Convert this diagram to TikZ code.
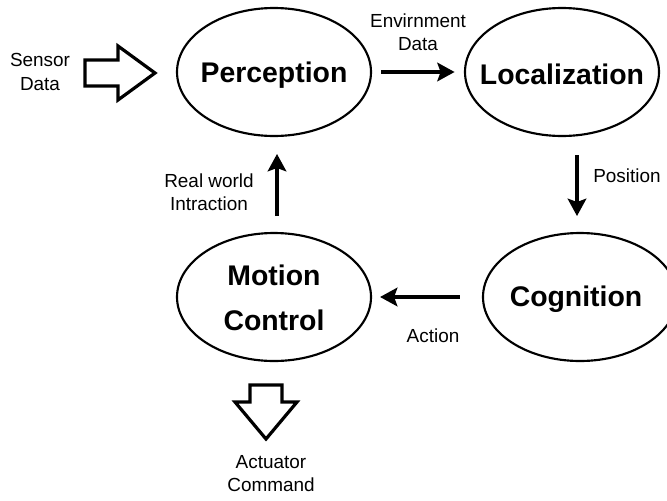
\documentclass[tikz,border=0pt]{standalone}
\usepackage{fontspec}
\setmainfont{Liberation Sans}
\usetikzlibrary{shapes.geometric,arrows.meta}
\begin{document}
\begin{tikzpicture}[x=0.75pt,y=-0.75pt,
  stage/.style={ellipse,draw,line width=1.6pt,minimum width=194*0.75pt,minimum height=128*0.75pt,
    inner sep=0pt},
  stagetext/.style={font=\fontsize{21.3pt}{33.75pt}\selectfont\bfseries,align=center,inner sep=0pt},
  lbl/.style={font=\fontsize{14.2pt}{17.3pt}\selectfont,align=center,inner sep=0pt},
  flow/.style={line width=2.3pt,-{Stealth[length=13pt,width=14pt,inset=2.5pt]}},
  hollow/.style={draw,line width=2.4pt,fill=white,line join=miter}]
\useasboundingbox (0,0) rectangle (667,500);
% the four stages of the loop
\node[stage] (per) at (274,72) {};
\node[stagetext] at ([yshift=-2pt]per) {Perception};
\node[stage] (loc) at (562,72) {};
\node[stagetext] at ([yshift=-2pt]loc) {Localization};
\node[stage] (cog) at (580,297) {};
\node[stagetext] at ([xshift=-3pt,yshift=-2pt]cog) {Cognition};
\node[stage] (mot) at (274,297) {};
\node[stagetext] at ([yshift=-1pt]mot) {Motion\\Control};
% arrows between stages
\draw[flow] ([xshift=7pt]per.east) -- ([xshift=-7pt]loc.west);
\draw[flow] (577,155) coordinate (a2) -- (577,216) coordinate (b2);
\draw[flow] ([xshift=-16.5pt]cog.west) -- ([xshift=6pt]mot.east);
\draw[flow] (277,216) coordinate (a4) -- (277,154) coordinate (b4);
% labels on the arrows
\node[lbl] (envdata) at (418,32) {Envirnment\\Data};
\node[lbl,anchor=west] (pos) at (593,176) {Position};
\node[lbl] (act) at (433,336) {Action};
\node[lbl] (rwi) at (209,192) {Real world\\Intraction};
% sensor input
\node[lbl] (sens) at (40,72) {Sensor\\Data};
\draw[hollow] (85,60) -- (118,60) -- (118,46) -- (155,73) -- (118,100) -- (118,86) -- (85,86) -- cycle;
% actuator output
\draw[hollow] (250,385) -- (282,385) -- (282,402) -- (297,402) -- (266,439) -- (235,402) -- (250,402) -- cycle;
\node[lbl] (actu) at (271,474) {Actuator\\Command};
\end{tikzpicture}
\end{document}
